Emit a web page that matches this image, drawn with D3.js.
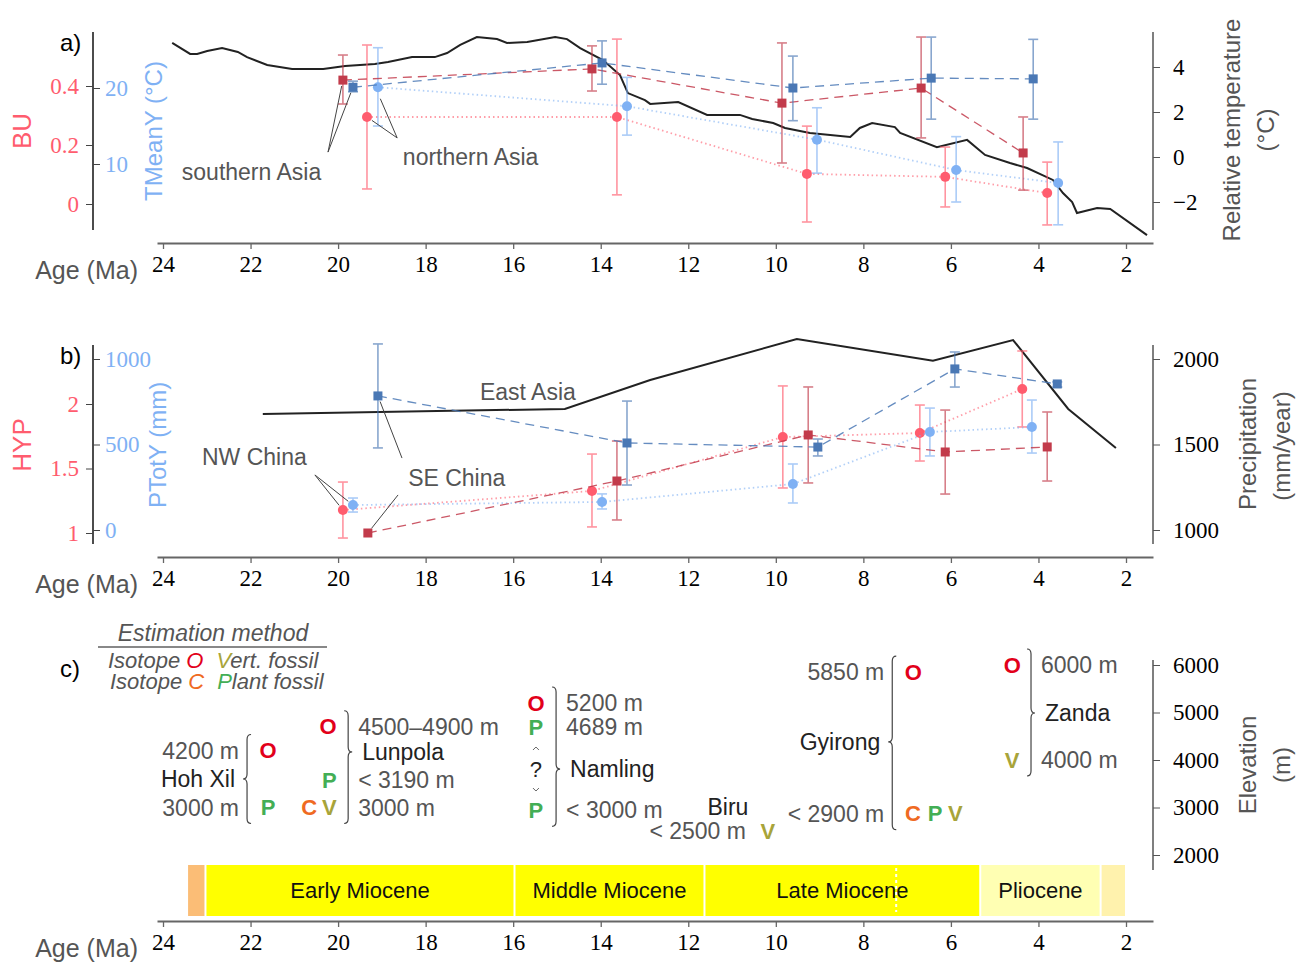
<!DOCTYPE html>
<html>
<head>
<meta charset="utf-8">
<script src="https://cdn.jsdelivr.net/npm/d3@7"></script>
<style>
body { margin: 0; background: #fff; }
</style>
</head>
<body>
<script>
// ---------- panel a ----------
// relative temperature curve [age Ma, deg C]
const tempCurve = [[23.79,5.07],[23.38,4.58],[23.22,4.58],[22.99,4.71],[22.65,4.84],[22.29,4.67],[22.08,4.44],
  [21.62,4.09],[21.05,3.91],[20.34,3.91],[19.84,4.04],[19.16,4.13],[18.86,4.22],[18.31,4.44],[17.79,4.44],
  [17.51,4.62],[17.21,4.98],[16.83,5.33],[16.37,5.24],[16.14,5.07],[15.68,5.11],[15.04,5.33],[14.77,5.24],
  [14.47,4.84],[13.95,4.31],[13.56,3.64],[13.38,2.84],[12.99,2.53],[12.87,2.36],[12.23,2.44],[11.57,1.87],
  [10.82,1.87],[10.54,1.69],[10.06,1.51],[9.79,1.29],[9.22,1.07],[8.30,0.89],[8.08,1.29],[7.80,1.51],
  [7.28,1.33],[7.16,1.07],[6.32,0.44],[5.63,0.76],[5.22,0.09],[4.65,-0.27],[4.26,-0.49],[3.67,-1.02],
  [3.44,-1.6],[3.23,-2.0],[3.12,-2.49],[2.66,-2.27],[2.36,-2.31],[1.52,-3.47]];
// [age, value, low, high]
const buSouth = [[19.89,0.420,0.339,0.505],[14.20,0.458,0.383,0.536],[9.86,0.342,0.139,0.546],[6.68,0.393,0.224,0.566],[4.35,0.173,0.047,0.295]];
const taSouth = [[19.66,20.1,19.5,20.9],[13.97,23.3,20.5,26.2],[9.61,20.0,15.7,24.2],[6.45,21.3,15.9,26.7],[4.12,21.2,15.9,26.4]];
const buNorth = [[19.34,0.295,0.051,0.539],[13.63,0.295,0.031,0.559],[9.29,0.102,-0.061,0.264],[6.13,0.092,-0.010,0.193],[3.80,0.037,-0.071,0.142]];
const taNorth = [[19.09,20.1,15.0,25.3],[13.40,17.6,13.8,21.4],[9.06,13.2,8.8,17.4],[5.88,9.2,5.0,13.6],[3.55,7.5,2.0,12.9]];

// ---------- panel b ----------
const precipCurve = [[21.72,1678],[14.82,1708],[12.87,1877],[9.52,2117],[6.41,1990],[4.58,2111],[3.32,1708],[2.23,1480]];
const hypNW = [[19.89,1.178,0.961,1.395],[14.20,1.326,1.047,1.612],[9.84,1.744,1.349,2.140],[6.71,1.775,1.558,1.992],[4.37,2.116,1.822,2.411]];
const ptNW  = [[19.66,146,105,187],[13.97,164,123,211],[9.61,269,158,386],[6.48,573,433,713],[4.15,602,450,760]];
const hypSE = [[19.32,1.0,1.0,1.0],[13.63,1.403,1.101,1.713],[9.26,1.760,1.388,2.132],[6.13,1.628,1.302,1.953],[3.80,1.667,1.403,1.938]];
const ptSE  = [[19.09,784,480,1088],[13.40,509,263,754],[9.04,485,433,532],[5.91,942,836,1041],[3.57,854,836,866]];

// ---------- panel c ----------
const siteName     = ["Hoh Xil","Lunpola","Namling","Gyirong","Zanda"];
const siteBraceAge = [22.08, 19.77, 15.02, 7.34, 4.17];
const siteBrace    = ["{","}","}","{","}"];
const siteNameElev = [3600, 4170, 3810, 4380, 4990];

const labelSite = ["Hoh Xil","Hoh Xil","Lunpola","Lunpola","Lunpola","Namling","Namling","Namling","Gyirong","Gyirong","Zanda","Zanda"];
const labelText = ["4200 m","3000 m","4500\u20134900 m","< 3190 m","3000 m","5200 m","4689 m","< 3000 m","5850 m","< 2900 m","6000 m","4000 m"];
const labelElev = [4200,3000,4700,3190,3000,5200,4689,2940,5850,2870,6000,4000];

const estSite   = ["Hoh Xil","Hoh Xil","Lunpola","Lunpola","Lunpola","Lunpola","Namling","Namling","Namling","Biru","Gyirong","Gyirong","Gyirong","Gyirong","Zanda","Zanda"];
const estMethod = ["O","P","O","P","C","V","O","P","P","V","O","C","P","V","O","V"];
const estAge    = [21.6,21.6,20.23,20.2,20.66,20.2,15.48,15.48,15.48,10.18,6.86,6.87,6.36,5.9,4.6,4.6];
const estElev   = [4200,3000,4700,3190,3000,3000,5200,4689,2940,2500,5850,2870,2870,2870,6000,4000];

const epochName  = ["","Early Miocene","Middle Miocene","Late Miocene","Pliocene",""];
const epochFrom  = [23.45,23.03,15.97,11.63,5.33,2.58];
const epochTo    = [23.03,15.97,11.63,5.33,2.58,2.0];
const epochColor = ["#fbbd76","#ffff00","#ffff00","#ffff00","#ffffb3","#fff2ad"];

const sans = "'Liberation Sans', Arial, Helvetica, sans-serif";
const serif = "'Liberation Serif', 'Times New Roman', serif";
const darkRed = "#c23b4b", darkBlue = "#4a78b5", lightRed = "#ff5c6e", lightBlue = "#7fb1f4";
const grey = "#555";
const methodColor = {O: "#e2001a", C: "#ef6a22", P: "#43ae55", V: "#a8a43a"};

const svg = d3.select("body").append("svg").attr("width", 1301).attr("height", 963)
  .style("font-family", sans);

const x0 = d3.scaleLinear().domain([24, 2]).range([163, 1126]);
const xs = x0.copy().domain([x0.invert(157), x0.invert(1153)]).range([157, 1153]);

// linear scale through two known points, spanning [top, bot]
function fit(v0, p0, v1, p1, top, bot) {
  const s = d3.scaleLinear().domain([v0, v1]).range([p0, p1]);
  return s.copy().domain([s.invert(bot), s.invert(top)]).range([bot, top]);
}

function bottomAxis(yPos) {
  const g = svg.append("g").attr("transform", `translate(0,${yPos})`)
    .call(d3.axisBottom(xs).tickValues(d3.range(24, 1, -2)).tickFormat(d3.format("d"))
      .tickSize(6).tickSizeOuter(0).tickPadding(7));
  g.select(".domain").attr("stroke", "#666").attr("stroke-width", 2);
  g.selectAll(".tick line").attr("stroke", "#666").attr("stroke-width", 1.3);
  g.selectAll(".tick text").attr("font-family", serif).attr("font-size", 23).attr("fill", "#000");
  svg.append("text").attr("x", 138).attr("y", yPos + 27).attr("text-anchor", "end")
    .attr("dominant-baseline", "central").attr("font-size", 25).attr("fill", grey).text("Age (Ma)");
}

function leftAxes(top, bot, sOut, tOut, fOut, cOut, sIn, tIn, cIn) {
  svg.append("line").attr("x1", 93).attr("x2", 93).attr("y1", top).attr("y2", bot)
    .attr("stroke", "#111").attr("stroke-width", 1.5);
  const a = svg.append("g").attr("transform", "translate(93,0)")
    .call(d3.axisLeft(sOut).tickValues(tOut).tickFormat(fOut).tickSize(7).tickPadding(7));
  const b = svg.append("g").attr("transform", "translate(93,0)")
    .call(d3.axisRight(sIn).tickValues(tIn).tickFormat(d3.format("d")).tickSize(7).tickPadding(5));
  [a, b].forEach(g => {
    g.select(".domain").remove();
    g.selectAll(".tick line").attr("stroke", "#444");
    g.selectAll("text").attr("font-family", serif).attr("font-size", 23);
  });
  a.selectAll("text").attr("fill", cOut);
  b.selectAll("text").attr("fill", cIn);
}

function rightAxis(top, bot, s, ticks, fmt) {
  svg.append("line").attr("x1", 1153).attr("x2", 1153).attr("y1", top).attr("y2", bot)
    .attr("stroke", grey).attr("stroke-width", 1.5);
  const g = svg.append("g").attr("transform", "translate(1153,0)")
    .call(d3.axisRight(s).tickValues(ticks).tickFormat(fmt).tickSize(7).tickPadding(13));
  g.select(".domain").remove();
  g.selectAll(".tick line").attr("stroke", grey);
  g.selectAll("text").attr("font-family", serif).attr("font-size", 23).attr("fill", "#000");
}

function vtext(cx, cy, str, size, color) {
  svg.append("text").attr("transform", `translate(${cx},${cy}) rotate(-90)`)
    .attr("text-anchor", "middle").attr("dominant-baseline", "central")
    .attr("font-size", size).attr("fill", color).text(str);
}

function panelLabel(y, str) {
  svg.append("text").attr("x", 60).attr("y", y).attr("dominant-baseline", "central")
    .attr("font-size", 24).attr("fill", "#000").text(str);
}

function curve(g, yS, data) {
  g.append("path").datum(data)
    .attr("d", d3.line().x(d => xs(d[0])).y(d => yS(d[1])))
    .attr("fill", "none").attr("stroke", "#222").attr("stroke-width", 2);
}

function series(g, yS, data, color, dashed, square) {
  g.append("path").datum(data)
    .attr("d", d3.line().x(d => xs(d[0])).y(d => yS(d[1])))
    .attr("fill", "none").attr("stroke", color)
    .attr("stroke-width", dashed ? 1.3 : 1.8)
    .attr("stroke-dasharray", dashed ? "9,6" : "1.5,3")
    .attr("opacity", dashed ? 0.85 : 0.6);
  const eb = g.append("g").attr("stroke", color).attr("stroke-width", 1.6).attr("opacity", 0.65);
  const err = data.filter(d => d[3] > d[2]);
  eb.selectAll(".v").data(err).join("line").attr("class", "v")
    .attr("x1", d => xs(d[0])).attr("x2", d => xs(d[0]))
    .attr("y1", d => yS(d[2])).attr("y2", d => yS(d[3]));
  eb.selectAll(".lo").data(err).join("line").attr("class", "lo")
    .attr("x1", d => xs(d[0]) - 5).attr("x2", d => xs(d[0]) + 5)
    .attr("y1", d => yS(d[2])).attr("y2", d => yS(d[2]));
  eb.selectAll(".hi").data(err).join("line").attr("class", "hi")
    .attr("x1", d => xs(d[0]) - 5).attr("x2", d => xs(d[0]) + 5)
    .attr("y1", d => yS(d[3])).attr("y2", d => yS(d[3]));
  if (square) {
    g.selectAll(null).data(data).join("rect")
      .attr("x", d => xs(d[0]) - 4.5).attr("y", d => yS(d[1]) - 4.5)
      .attr("width", 9).attr("height", 9).attr("fill", color);
  } else {
    g.selectAll(null).data(data).join("circle")
      .attr("cx", d => xs(d[0])).attr("cy", d => yS(d[1])).attr("r", 5).attr("fill", color);
  }
}

function note(g, px, py, str) {
  g.append("text").attr("x", px).attr("y", py).attr("dominant-baseline", "central")
    .attr("font-size", 23).attr("fill", grey).text(str);
}

function leader(g, x1, y1, x2, y2) {
  const dx = x2 - x1, dy = y2 - y1, L = Math.hypot(dx, dy), k = (L - 6) / L;
  g.append("line").attr("x1", x1).attr("y1", y1).attr("x2", x1 + dx * k).attr("y2", y1 + dy * k)
    .attr("stroke", "#444").attr("stroke-width", 1);
}

// ================= panel a =================
const aTop = 32, aBot = 230;
const yBU = fit(0, 204, 0.4, 86, aTop, aBot);
const yTa = fit(10, 164, 20, 88, aTop, aBot);
const yRel = fit(0, 157, 4, 67, aTop, aBot);

leftAxes(aTop, aBot, yBU, [0, 0.2, 0.4], d3.format(".1~f"), lightRed, yTa, [10, 20], lightBlue);
rightAxis(aTop, aBot, yRel, [-2, 0, 2, 4], d3.format("d"));
bottomAxis(243);
vtext(22, 131, "BU", 26, lightRed);
vtext(153, 131, "TMeanY (\u00B0C)", 24, lightBlue);
vtext(1231, 130, "Relative temperature", 24, grey);
vtext(1265, 130, "(\u00B0C)", 24, grey);
panelLabel(42, "a)");

const ga = svg.append("g");
curve(ga, yRel, tempCurve);
series(ga, yBU, buNorth, lightRed, false, false);
series(ga, yTa, taNorth, lightBlue, false, false);
series(ga, yBU, buSouth, darkRed, true, true);
series(ga, yTa, taSouth, darkBlue, true, true);

note(ga, xs(23.57), yBU(0.108), "southern Asia");
leader(ga, xs(20.23), yBU(0.176), xs(buSouth[0][0]), yBU(buSouth[0][1]));
leader(ga, xs(20.23), yBU(0.176), xs(taSouth[0][0]), yTa(taSouth[0][1]));
note(ga, xs(18.52), yBU(0.159), "northern Asia");
leader(ga, xs(18.65), yBU(0.224), xs(buNorth[0][0]), yBU(buNorth[0][1]));
leader(ga, xs(18.65), yBU(0.224), xs(taNorth[0][0]), yTa(taNorth[0][1]) + 6);

// ================= panel b =================
const bTop = 345, bBot = 544;
const yHYP = fit(1, 533, 2, 404, bTop, bBot);
const yPT = fit(0, 530, 1000, 359, bTop, bBot);
const yPr = fit(1000, 530, 2000, 359, bTop, bBot);

leftAxes(bTop, bBot, yHYP, [1, 1.5, 2], d3.format(".1~f"), lightRed, yPT, [0, 500, 1000], lightBlue);
rightAxis(bTop, bBot, yPr, [1000, 1500, 2000], d3.format("d"));
bottomAxis(557);
vtext(22, 445, "HYP", 26, lightRed);
vtext(157, 445, "PTotY (mm)", 24, lightBlue);
vtext(1247, 444, "Precipitation", 24, grey);
vtext(1281, 446, "(mm/year)", 24, grey);
panelLabel(355, "b)");

const gb = svg.append("g");
curve(gb, yPr, precipCurve);
series(gb, yHYP, hypNW, lightRed, false, false);
series(gb, yPT, ptNW, lightBlue, false, false);
series(gb, yHYP, hypSE, darkRed, true, true);
series(gb, yPT, ptSE, darkBlue, true, true);

note(gb, xs(16.76), yHYP(2.093), "East Asia");
note(gb, xs(23.11), yHYP(1.589), "NW China");
leader(gb, xs(20.53), yHYP(1.45), xs(hypNW[0][0]), yHYP(hypNW[0][1]));
leader(gb, xs(20.53), yHYP(1.45), xs(ptNW[0][0]), yPT(ptNW[0][1]));
note(gb, xs(18.40), yHYP(1.426), "SE China");
leader(gb, xs(18.54), yHYP(1.581), xs(ptSE[0][0]), yPT(ptSE[0][1]));
leader(gb, xs(18.63), yHYP(1.295), xs(hypSE[0][0]), yHYP(hypSE[0][1]));

// ================= panel c =================
const yEl = fit(2000, 855, 6000, 665, 660, 870);
rightAxis(660, 870, yEl, [2000, 3000, 4000, 5000, 6000], d3.format("d"));
bottomAxis(921);
vtext(1247, 765, "Elevation", 24, grey);
vtext(1281, 765, "(m)", 24, grey);
panelLabel(668, "c)");

// legend of estimation methods
const leg = svg.append("g").attr("font-style", "italic").attr("fill", grey);
leg.append("text").attr("x", 213).attr("y", 633).attr("text-anchor", "middle")
  .attr("dominant-baseline", "central").attr("font-size", 23).text("Estimation method");
leg.append("line").attr("x1", 98).attr("x2", 327).attr("y1", 647).attr("y2", 647)
  .attr("stroke", "#888").attr("stroke-width", 2);
const legRows = [["Isotope ", "O", "V", "ert. fossil", 108, 660], ["Isotope ", "C", "P", "lant fossil", 110, 681]];
legRows.forEach(r => {
  const t = leg.append("text").attr("x", r[4]).attr("y", r[5]).attr("dominant-baseline", "central").attr("font-size", 22);
  t.append("tspan").text(r[0]);
  t.append("tspan").attr("fill", methodColor[r[1]]).text(r[1]);
  t.append("tspan").attr("dx", 13).attr("fill", methodColor[r[2]]).text(r[2]);
  t.append("tspan").text(r[3]);
});

const gc = svg.append("g");
const nudge = t => t.indexOf("3190") >= 0 ? -18 : 0;

function bracePath(bx, yT, yB, yTip, dir) {
  const w = 4 * dir, r = 5;
  return `M${bx - w},${yT} Q${bx},${yT} ${bx},${yT + r} L${bx},${yTip - r} Q${bx},${yTip} ${bx + w},${yTip}` +
         ` Q${bx},${yTip} ${bx},${yTip + r} L${bx},${yB - r} Q${bx},${yB} ${bx - w},${yB}`;
}

siteName.forEach((s, i) => {
  const bx = xs(siteBraceAge[i]);
  const dir = siteBrace[i] === "{" ? -1 : 1;
  const idx = labelSite.map((v, j) => v === s ? j : -1).filter(j => j >= 0);
  const ys = idx.map(j => yEl(labelElev[j]) + nudge(labelText[j]));
  const yTip = yEl(siteNameElev[i]);
  gc.append("path").attr("d", bracePath(bx, d3.min(ys) - 16, d3.max(ys) + 16, yTip, dir))
    .attr("fill", "none").attr("stroke", "#444").attr("stroke-width", 1.2);
  idx.forEach((j, k) => {
    gc.append("text").attr("x", dir < 0 ? bx - 8 : bx + 10).attr("y", ys[k])
      .attr("text-anchor", dir < 0 ? "end" : "start").attr("dominant-baseline", "central")
      .attr("font-size", 23).attr("fill", grey).text(labelText[j]);
  });
  gc.append("text").attr("x", dir < 0 ? bx - 12 : bx + 14).attr("y", yTip)
    .attr("text-anchor", dir < 0 ? "end" : "start").attr("dominant-baseline", "central")
    .attr("font-size", 23).attr("fill", "#222").text(s);
});

// Biru has a single estimate and no brace
const biru = estSite.indexOf("Biru");
gc.append("text").attr("x", xs(estAge[biru]) - 22).attr("y", yEl(estElev[biru]))
  .attr("text-anchor", "end").attr("dominant-baseline", "central")
  .attr("font-size", 23).attr("fill", grey).text("< 2500 m");
gc.append("text").attr("x", xs(estAge[biru]) - 40).attr("y", yEl(estElev[biru]) - 24)
  .attr("text-anchor", "middle").attr("dominant-baseline", "central")
  .attr("font-size", 23).attr("fill", "#222").text("Biru");

// method letters
estMethod.forEach((m, i) => {
  const lt = estElev[i] === 3190 ? "< 3190 m" : "";
  gc.append("text").attr("x", xs(estAge[i])).attr("y", yEl(estElev[i]) + nudge(lt))
    .attr("text-anchor", "middle").attr("dominant-baseline", "central")
    .attr("font-size", 22).attr("font-weight", "bold").attr("fill", methodColor[m]).text(m);
});

// Namling uncertain interval between the two P estimates
const nmX = xs(15.48), nmY = yEl(3810);
gc.append("text").attr("x", nmX).attr("y", nmY).attr("text-anchor", "middle")
  .attr("dominant-baseline", "central").attr("font-size", 22).attr("fill", "#222").text("?");
gc.append("path").attr("d", `M${nmX - 3},${nmY - 19} L${nmX},${nmY - 22} L${nmX + 3},${nmY - 19}` +
  ` M${nmX - 3},${nmY + 19} L${nmX},${nmY + 22} L${nmX + 3},${nmY + 19}`)
  .attr("fill", "none").attr("stroke", "#666").attr("stroke-width", 1);

// geologic time scale
const ts = svg.append("g");
epochName.forEach((n, i) => {
  const x1 = xs(epochFrom[i]), x2 = xs(epochTo[i]);
  ts.append("rect").attr("x", x1 + 1).attr("y", 865).attr("width", x2 - x1 - 2).attr("height", 51)
    .attr("fill", epochColor[i]);
  if (n) ts.append("text").attr("x", (x1 + x2) / 2).attr("y", 890).attr("text-anchor", "middle")
    .attr("dominant-baseline", "central").attr("font-size", 22).attr("fill", "#111").text(n);
});
ts.append("line").attr("x1", xs(7.25)).attr("x2", xs(7.25)).attr("y1", 868).attr("y2", 912)
  .attr("stroke", "#fff").attr("stroke-width", 2).attr("stroke-dasharray", "3,3");
</script>
</body>
</html>
